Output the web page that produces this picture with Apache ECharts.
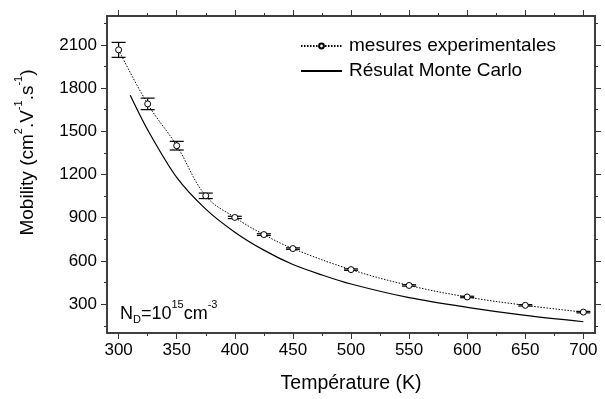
<!DOCTYPE html>
<html>
<head>
<meta charset="utf-8">
<script src="https://cdn.jsdelivr.net/npm/echarts@6/dist/echarts.min.js"></script>
<style>
html,body{margin:0;padding:0;background:#fff;}
#chart{width:605px;height:399px;}
</style>
</head>
<body>
<div id="chart"></div>
<script>
// ---- data ----
var expTemps = [300, 325, 350, 375, 400, 425, 450, 500, 550, 600, 650, 700];
var expMobility = [2065, 1690, 1400, 1052, 902, 783, 686, 540, 430, 350, 292, 245];
var expError = [52, 40, 30, 19, 8, 6, 5, 5, 5, 5, 5, 5];

var mcTemps = [310, 325, 350, 375, 400, 425, 450, 475, 500, 550, 600, 650, 700];
var mcMobility = [1750, 1510, 1180, 960, 800, 675, 575, 503, 440, 345, 278, 222, 178];

var xMajorTicks = [300, 350, 400, 450, 500, 550, 600, 650, 700];
var xMinorTicks = [325, 375, 425, 475, 525, 575, 625, 675];
var yMajorTicks = [300, 600, 900, 1200, 1500, 1800, 2100];
var yMinorTicks = [150, 450, 750, 1050, 1350, 1650, 1950, 2250];

var seriesNames = ['mesures experimentales', 'Résulat Monte Carlo'];

// ---- chart ----
var FONT = '"Liberation Sans", Arial, sans-serif';
var AX = '#333';
var chart = echarts.init(document.getElementById('chart'));
function plain(v) { return String(v); }

function xAxisDef(pos, ticks, len, labels, name) {
  return {
    type: 'value', min: 290, max: 710, position: pos,
    axisLine: {show: true, onZero: false, lineStyle: {color: AX, width: 1.5}},
    axisTick: {show: true, inside: false, length: len, customValues: ticks, lineStyle: {color: AX, width: 1}},
    axisLabel: labels ? {show: true, customValues: ticks, formatter: plain, fontSize: 17, color: '#000', fontFamily: FONT, margin: 9} : {show: false},
    splitLine: {show: false},
    name: name || '', nameLocation: 'middle', nameGap: 41,
    nameTextStyle: {fontSize: 19.5, color: '#000', fontFamily: FONT}
  };
}
function yAxisDef(pos, ticks, len, labels, withName) {
  var a = {
    type: 'value', min: 100, max: 2300, position: pos,
    axisLine: {show: true, onZero: false, lineStyle: {color: AX, width: 1.5}},
    axisTick: {show: true, inside: false, length: len, customValues: ticks, lineStyle: {color: AX, width: 1}},
    axisLabel: labels ? {show: true, customValues: ticks, formatter: plain, fontSize: 17, color: '#000', fontFamily: FONT, margin: 10} : {show: false},
    splitLine: {show: false}
  };
  if (withName) {
    a.name = '{a|Mobility (cm}{s|2}{a|.V}{s|-1}{a|.s}{s|-1}{a|)}';
    a.nameLocation = 'middle';
    a.nameGap = 70;
    a.nameRotate = 90;
    a.nameTextStyle = {
      fontFamily: FONT, color: '#000', padding: [0, 0, 0, 44],
      rich: {
        a: {fontSize: 19, fontFamily: FONT, color: '#000', lineHeight: 24, verticalAlign: 'bottom'},
        s: {fontSize: 11, fontFamily: FONT, color: '#000', lineHeight: 24, verticalAlign: 'top', padding: [0, 0, 10, 0]}
      }
    };
  }
  return a;
}

var expData = expTemps.map(function (t, i) { return [t, expMobility[i]]; });
var errData = expTemps.map(function (t, i) { return [t, expMobility[i] - expError[i], expMobility[i] + expError[i]]; });
var mcData = mcTemps.map(function (t, i) { return [t, mcMobility[i]]; });

var option = {
  animation: false,
  backgroundColor: '#fff',
  grid: {left: 107, right: 10, top: 16, bottom: 64, containLabel: false},
  xAxis: [
    xAxisDef('bottom', xMajorTicks, 6, true, 'Température (K)'),
    xAxisDef('bottom', xMinorTicks, 3, false),
    xAxisDef('top', xMajorTicks, 6, false),
    xAxisDef('top', xMinorTicks, 3, false)
  ],
  yAxis: [
    yAxisDef('left', yMajorTicks, 6, true, true),
    yAxisDef('left', yMinorTicks, 3, false),
    yAxisDef('right', yMajorTicks, 6, false),
    yAxisDef('right', yMinorTicks, 3, false)
  ],
  legend: {
    data: [
      {name: seriesNames[0]},
      {name: seriesNames[1], itemStyle: {color: 'rgba(0,0,0,0)', borderColor: 'rgba(0,0,0,0)', borderWidth: 0}}
    ],
    orient: 'vertical', left: 295, top: 31,
    itemWidth: 41, itemHeight: 6, itemGap: 5,
    textStyle: {fontSize: 19, color: '#000', fontFamily: FONT, lineHeight: 20, padding: [0, 0, 0, 2]}
  },
  graphic: [{
    type: 'text', left: 120, top: 299,
    style: {
      text: '{a|N}{d|D}{a|=10}{s|15}{a|cm}{s|-3}',
      fontFamily: FONT,
      rich: {
        a: {fontSize: 18, fontFamily: FONT, fill: '#000', lineHeight: 24, verticalAlign: 'bottom'},
        d: {fontSize: 11, fontFamily: FONT, fill: '#000', lineHeight: 24, verticalAlign: 'bottom', padding: [0, 0, -2, 0]},
        s: {fontSize: 11, fontFamily: FONT, fill: '#000', lineHeight: 24, verticalAlign: 'top'}
      }
    }
  }],
  series: [
    {
      name: 'errors', type: 'custom', z: 2,
      data: errData,
      encode: {x: 0, y: [1, 2]},
      renderItem: function (params, api) {
        var x = api.value(0);
        var lo = api.coord([x, api.value(1)]);
        var hi = api.coord([x, api.value(2)]);
        var w = 7;
        var st = {stroke: '#000', lineWidth: 1.2};
        return {
          type: 'group',
          children: [
            {type: 'line', shape: {x1: lo[0], y1: lo[1], x2: hi[0], y2: hi[1]}, style: st},
            {type: 'line', shape: {x1: lo[0] - w, y1: lo[1], x2: lo[0] + w, y2: lo[1]}, style: st},
            {type: 'line', shape: {x1: hi[0] - w, y1: hi[1], x2: hi[0] + w, y2: hi[1]}, style: st}
          ]
        };
      }
    },
    {
      name: seriesNames[0], type: 'line', z: 3,
      data: expData,
      smooth: 0.4,
      symbol: 'circle', symbolSize: 6,
      itemStyle: {color: '#fff', borderColor: '#000', borderWidth: 1},
      lineStyle: {type: [1.5, 1.5], color: '#000', width: 1}
    },
    {
      name: seriesNames[1], type: 'line', z: 3,
      data: mcData,
      smooth: 0.3,
      symbol: 'none',
      itemStyle: {color: '#000'},
      lineStyle: {type: 'solid', color: '#000', width: 1.2}
    }
  ]
};
chart.setOption(option);
</script>
</body>
</html>
